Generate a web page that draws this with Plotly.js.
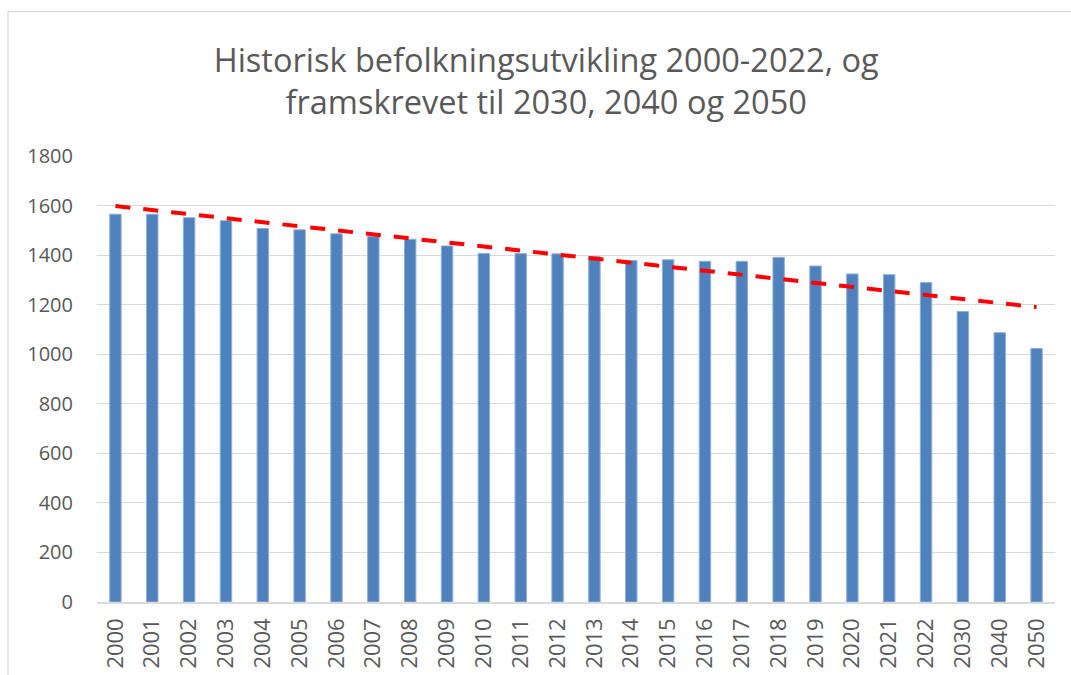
<!DOCTYPE html>
<html>
<head>
<meta charset="utf-8">
<script src="https://cdn.plot.ly/plotly-3.0.1.min.js"></script>
<style>
html,body{margin:0;padding:0;background:#fff;}
#chart{width:1071px;height:675px;}
</style>
</head>
<body>
<div id="chart"></div>
<script>
// Categories (years) and population values
const years = ["2000","2001","2002","2003","2004","2005","2006","2007","2008","2009","2010","2011","2012","2013","2014","2015","2016","2017","2018","2019","2020","2021","2022","2030","2040","2050"];
const population = [1565,1565,1551,1539,1508,1502,1486,1475,1464,1437,1407,1406,1405,1394,1378,1381,1375,1375,1391,1356,1324,1321,1289,1172,1087,1023];
// Linear trend line endpoints
const trendYears = ["2000","2050"];
const trendValues = [1598,1190];
const yTicks = [0,200,400,600,800,1000,1200,1400,1600,1800];
const titleText = "Historisk befolkningsutvikling 2000-2022, og<br>framskrevet til 2030, 2040 og 2050";

const FONT = "Open Sans, Liberation Sans, sans-serif";
const GREY = "#595959";

const traces = [
  {
    type: "bar",
    x: years,
    y: population,
    marker: {color: "#4f81bd", line: {color: "#8eaedb", width: 1}},
    hoverinfo: "x+y"
  },
  {
    type: "scatter",
    mode: "lines",
    x: trendYears,
    y: trendValues,
    line: {color: "#ff0000", width: 4, dash: "15px,13px"},
    hoverinfo: "skip"
  }
];

const layout = {
  width: 1071,
  height: 675,
  margin: {l: 97, r: 16, t: 155.5, b: 73.3, pad: 0},
  paper_bgcolor: "#ffffff",
  plot_bgcolor: "#ffffff",
  showlegend: false,
  bargap: 0.69,
  title: {
    text: titleText,
    font: {family: FONT, size: 32.5, color: GREY},
    x: 0.51, xanchor: "center",
    y: 0.894, yanchor: "middle"
  },
  xaxis: {
    type: "category",
    categoryorder: "array",
    categoryarray: years,
    tickangle: -90,
    tickfont: {family: FONT, size: 22, color: GREY},
    showgrid: false,
    showline: true,
    linecolor: "#d9d9d9",
    linewidth: 1.5,
    ticks: "outside",
    ticklen: 6,
    tickcolor: "rgba(0,0,0,0)",
    zeroline: false,
    fixedrange: true
  },
  yaxis: {
    range: [0, 1800],
    tickvals: yTicks,
    ticktext: yTicks.map(String),
    tickfont: {family: FONT, size: 20, color: GREY},
    showgrid: true,
    gridcolor: "#d9d9d9",
    gridwidth: 1,
    zeroline: false,
    showline: false,
    ticks: "outside",
    ticklen: 19,
    tickcolor: "rgba(0,0,0,0)",
    fixedrange: true
  },
  shapes: [
    {
      type: "rect", xref: "paper", yref: "paper",
      x0: -0.0929, x1: 1.2, y0: -0.4, y1: 1.3238,
      line: {color: "#d9d9d9", width: 1.2},
      layer: "below"
    }
  ]
};

Plotly.newPlot("chart", traces, layout, {displayModeBar: false, staticPlot: true});
</script>
</body>
</html>
